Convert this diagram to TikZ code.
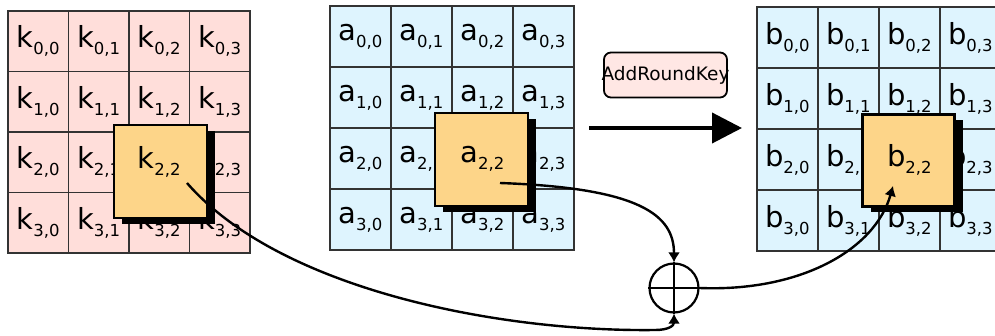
\documentclass[tikz,border=0pt]{standalone}
\usepackage{fontspec}
\setmainfont{DejaVu Sans}
\usetikzlibrary{arrows.meta,shadows}

\definecolor{keypink}{HTML}{FFDEDA}
\definecolor{stateblue}{HTML}{DEF4FE}
\definecolor{boxorange}{HTML}{FDD589}
\definecolor{labelpink}{HTML}{FFE7E4}

% letter with a lowered index
\newcommand{\entry}[2]{#1\kern-0.5pt\raisebox{-7pt}{\fontsize{16.5}{16.5}\selectfont #2}}

\tikzset{
  cell/.style={draw=black!80, line width=1.3pt, minimum size=61pt, inner sep=0pt,
    font=\fontsize{29}{29}\selectfont},
  hilite/.style={draw=black, line width=2.2pt, fill=boxorange, minimum size=93pt, inner sep=0pt,
    drop shadow={shadow xshift=8pt, shadow yshift=-6pt, fill=black, opacity=1}},
  celltext/.style={inner sep=0pt, font=\fontsize{29}{29}\selectfont},
  link/.style={line width=2.4pt, -{Latex[length=10pt,width=12pt]}},
}

\begin{document}
\begin{tikzpicture}[x=1pt, y=-1pt]
    \useasboundingbox (0,0) rectangle (995,336);

    % 1. The three 4x4 grids
    \foreach \r in {0,...,3}
      \foreach \c in {0,...,3} {
        \node[cell, fill=keypink, minimum size=60.5pt] (k\r\c) at ({38.25+60.5*\c},{41.25+60.5*\r}) {\entry{k}{\r,\c}};
        \node[cell, fill=stateblue] (a\r\c) at ({360.5+61*\c},{36.5+61*\r}) {\entry{a}{\r,\c}};
        \node[cell, fill=stateblue] (b\r\c) at ({787.5+61*\c},{37.5+61*\r}) {\entry{b}{\r,\c}};
      }

    % 2. Highlighted bytes with their shadows
    \node[hilite] (kbox) at (160.5,171.5) {};
    \node[celltext] (ktop) at (k22) {\entry{k}{2,2}};
    \node[hilite] (abox) at (481.5,159.5) {};
    \node[celltext] (atop) at (a22) {\entry{a}{2,2}};
    \node[hilite, minimum size=92pt] (bbox) at (908.5,160.5) {};
    \node[celltext] (btop) at (b22) {\entry{b}{2,2}};

    % 3. Step label and big arrow
    \node[draw, line width=1.8pt, rounded corners=7pt, fill=labelpink, minimum width=123pt,
      minimum height=45pt, inner sep=0pt, font=\fontsize{18.5}{18.5}\selectfont] (addkey) at (665.5,75) {\makebox[119pt][c]{AddRoundKey}};
    \coordinate (arrowstart) at (589,128);
    \coordinate (arrowend) at (742,128);
    \draw[line width=4pt, -{Triangle[length=30pt,width=30pt]}] (arrowstart) -- (arrowend);

    % 4. XOR of the two bytes
    \node[draw, circle, line width=2.2pt, minimum size=49pt, inner sep=0pt] (xor) at (674,288) {};
    \draw[line width=2.2pt] (xor.north) -- (xor.south) (xor.west) -- (xor.east);

    \coordinate (kout) at (187,183);
    \coordinate (aout) at (500,183);
    \coordinate (bin) at (893,186);
    \draw[link] (aout) .. controls (640,188) and (674,215) .. (xor.north);
    \draw[link] (kout) .. controls (280,290) and (500,332) .. (655,330) .. controls (668,330) and (674,326) .. (xor.south);
    \draw[link] (xor.east) .. controls (800,292) and (875,250) .. (bin);
\end{tikzpicture}
\end{document}
